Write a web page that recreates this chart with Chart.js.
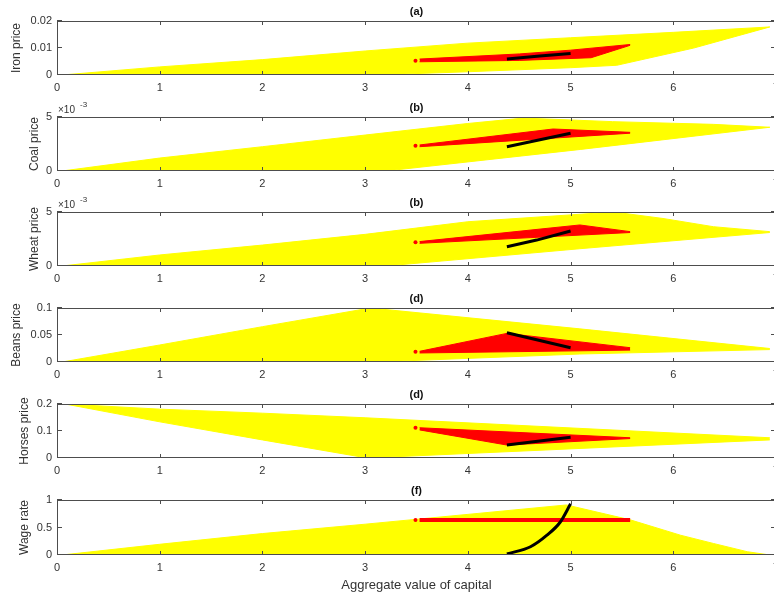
<!DOCTYPE html>
<html>
<head>
<meta charset="utf-8">
<script src="https://cdn.jsdelivr.net/npm/chart.js@4"></script>
<style>
  body { margin: 0; background: #fff; overflow: hidden; }
  #figure { position: relative; width: 774px; height: 599px; overflow: hidden; }
  #figure canvas { position: absolute; left: 0; }
</style>
</head>
<body>
<div id="figure"></div>
<script>
// shared x axis
const capitalTicks = [0, 1, 2, 3, 4, 5, 6, 7];
const xLabel = 'Aggregate value of capital';

// (a) iron
const ironYellowTop = [[0.05, 0], [1, 0.0030], [2, 0.0057], [3, 0.0089], [4, 0.0118], [5, 0.0138], [6, 0.0158], [6.94, 0.0178]];
const ironYellowBottom = [[0.05, 0], [3.1, 0], [4, 0.0012], [5, 0.0027], [5.45, 0.0036], [6.2, 0.0100], [6.94, 0.0178]];
const ironRedTop = [[3.53, 0.0059], [4.5, 0.0078], [5, 0.0092], [5.58, 0.0113]];
const ironRedBottom = [[3.53, 0.0049], [4.5, 0.0054], [5.2, 0.0064], [5.58, 0.0110]];
const ironDot = [[3.49, 0.0053]];
const ironPath = [[4.38, 0.0059], [4.7, 0.0070], [5.0, 0.0080]];

// (b) coal
const coalYellowTop = [[0.05, 0], [1, 0.0012], [2, 0.00225], [3, 0.00333], [4, 0.0044], [4.54, 0.0049], [5.41, 0.00457], [6.39, 0.00432], [6.94, 0.00405]];
const coalYellowBottom = [[0.05, 0], [3.2, 0], [5.1, 0.0020], [6.94, 0.00405]];
const coalRedTop = [[3.53, 0.00241], [4.83, 0.00389], [5.58, 0.00358]];
const coalRedBottom = [[3.53, 0.00225], [5.58, 0.0035]];
const coalDot = [[3.49, 0.00234]];
const coalPath = [[4.38, 0.00225], [5.0, 0.00349]];

// (b) wheat
const wheatYellowTop = [[0.05, 0], [1, 0.00102], [2, 0.00194], [3, 0.00293], [4, 0.0041], [5.42, 0.0050], [5.9, 0.0044], [6.39, 0.00364], [6.94, 0.00318]];
const wheatYellowBottom = [[0.05, 0], [3.2, 0], [5.09, 0.0016], [6.94, 0.0031]];
const wheatRedTop = [[3.53, 0.00226], [5.09, 0.0038], [5.58, 0.00318]];
const wheatRedBottom = [[3.53, 0.0021], [5.58, 0.0031]];
const wheatDot = [[3.49, 0.0022]];
const wheatPath = [[4.38, 0.00179], [4.67, 0.0024], [5.0, 0.00324]];

// (d) beans
const beansYellowTop = [[0.05, 0], [1, 0.0315], [2, 0.0654], [3.05, 0.1], [5.09, 0.0614], [6.94, 0.025]];
const beansYellowBottom = [[0.05, 0], [3.1, 0], [5.09, 0.0148], [6.94, 0.023]];
const beansRedTop = [[3.53, 0.0198], [4.38, 0.053], [5.58, 0.0265]];
const beansRedBottom = [[3.53, 0.0167], [5.58, 0.022]];
const beansDot = [[3.49, 0.019]];
const beansPath = [[4.38, 0.0543], [5.0, 0.0265]];

// (d) horses
const horsesYellowTop = [[0.08, 0.2], [1, 0.181], [2, 0.166], [3, 0.149], [6.94, 0.075]];
const horsesYellowBottom = [[0.08, 0.2], [1, 0.134], [2, 0.067], [3.02, 0], [6.94, 0.067]];
const horsesRedTop = [[3.53, 0.112], [5.58, 0.075]];
const horsesRedBottom = [[3.53, 0.104], [4.38, 0.048], [5.58, 0.072]];
const horsesDot = [[3.49, 0.112]];
const horsesPath = [[4.38, 0.048], [5.0, 0.0767]];

// (f) wage
const wageYellowTop = [[0.05, 0], [1, 0.195], [2, 0.39], [3, 0.56], [4.12, 0.76], [4.96, 0.91], [5.58, 0.64], [6.07, 0.36], [6.39, 0.21], [6.72, 0.06], [6.94, 0]];
const wageYellowBottom = [[0.05, 0], [6.94, 0]];
const wageRedLine = [[3.53, 0.636], [5.58, 0.636]];
const wageDot = [[3.49, 0.636]];
const wagePath = [[4.38, 0.02], [4.61, 0.15], [4.77, 0.36], [4.9, 0.6], [5.0, 0.93]];

const panels = [
  { title: '(a)', label: 'Iron price', labelX: 17, top: 21, yMax: 0.02, yTicks: [0, 0.01, 0.02], tickText: ['0', '0.01', '0.02'],
    yTop: ironYellowTop, yBot: ironYellowBottom, rTop: ironRedTop, rBot: ironRedBottom, dot: ironDot, path: ironPath },
  { title: '(b)', label: 'Coal price', labelX: 35, top: 117, yMax: 0.005, yTicks: [0, 0.005], tickText: ['0', '5'], exponent: true,
    yTop: coalYellowTop, yBot: coalYellowBottom, rTop: coalRedTop, rBot: coalRedBottom, dot: coalDot, path: coalPath },
  { title: '(b)', label: 'Wheat price', labelX: 35, top: 212, yMax: 0.005, yTicks: [0, 0.005], tickText: ['0', '5'], exponent: true,
    yTop: wheatYellowTop, yBot: wheatYellowBottom, rTop: wheatRedTop, rBot: wheatRedBottom, dot: wheatDot, path: wheatPath },
  { title: '(d)', label: 'Beans price', labelX: 17, top: 308, yMax: 0.1, yTicks: [0, 0.05, 0.1], tickText: ['0', '0.05', '0.1'],
    yTop: beansYellowTop, yBot: beansYellowBottom, rTop: beansRedTop, rBot: beansRedBottom, dot: beansDot, path: beansPath },
  { title: '(d)', label: 'Horses price', labelX: 25, top: 404, yMax: 0.2, yTicks: [0, 0.1, 0.2], tickText: ['0', '0.1', '0.2'],
    yTop: horsesYellowTop, yBot: horsesYellowBottom, rTop: horsesRedTop, rBot: horsesRedBottom, dot: horsesDot, path: horsesPath },
  { title: '(f)', label: 'Wage rate', labelX: 25, top: 500, yMax: 1, yTicks: [0, 0.5, 1], tickText: ['0', '0.5', '1'], last: true,
    yTop: wageYellowTop, yBot: wageYellowBottom, rLine: wageRedLine, dot: wageDot, path: wagePath, smooth: true }
];

const FONT = '"Liberation Sans", Arial, sans-serif';
const INK = '#333';
const PAD_TOP = 20;

const toPts = pairs => pairs.map(([x, y]) => ({ x, y }));

// matlab-ish box, inward ticks and all the texts
const decor = {
  id: 'decor',
  afterDraw(chart, args, o) {
    const { ctx, chartArea: a } = chart;
    const xs = chart.scales.x, ys = chart.scales.y;
    ctx.save();
    ctx.strokeStyle = '#4d4d4d';
    ctx.lineWidth = 1;
    ctx.strokeRect(a.left + 0.5, a.top + 0.5, a.right - a.left - 1, a.bottom - a.top - 1);
    ctx.beginPath();
    xs.ticks.forEach(t => {
      const px = Math.round(xs.getPixelForValue(t.value)) + 0.5;
      ctx.moveTo(px, a.top); ctx.lineTo(px, a.top + 4);
      ctx.moveTo(px, a.bottom); ctx.lineTo(px, a.bottom - 4);
    });
    ys.ticks.forEach(t => {
      const py = Math.round(ys.getPixelForValue(t.value)) - 0.5;
      ctx.moveTo(a.left, py); ctx.lineTo(a.left + 5, py);
      ctx.moveTo(a.right, py); ctx.lineTo(a.right - 5, py);
    });
    ctx.stroke();

    ctx.fillStyle = '#111';
    ctx.textAlign = 'center';
    ctx.textBaseline = 'alphabetic';
    ctx.font = 'bold 11px ' + FONT;
    ctx.fillText(o.title, (a.left + a.right) / 2, a.top - 6);

    ctx.fillStyle = INK;
    ctx.font = '12px ' + FONT;
    ctx.save();
    ctx.translate(o.labelX, (a.top + a.bottom) / 2);
    ctx.rotate(-Math.PI / 2);
    ctx.textBaseline = 'middle';
    ctx.fillText(o.label, 0, 0);
    ctx.restore();

    if (o.exponent) {
      ctx.textAlign = 'left';
      ctx.font = '10px ' + FONT;
      ctx.fillText('\u00d710', 58, a.top - 4);
      ctx.font = '8px ' + FONT;
      ctx.fillText('-3', 80, a.top - 10);
    }
    if (o.last) {
      ctx.textAlign = 'center';
      ctx.font = '13px ' + FONT;
      ctx.fillText(xLabel, (a.left + a.right) / 2, a.bottom + 34);
    }
    ctx.restore();
  }
};

const figure = document.getElementById('figure');

panels.forEach(p => {
  const plotH = p.last ? 55 : 54;
  const height = p.last ? 599 - (p.top - PAD_TOP) : PAD_TOP + plotH + 22;
  const canvas = document.createElement('canvas');
  canvas.width = 790;
  canvas.height = height;
  canvas.style.top = (p.top - PAD_TOP) + 'px';
  figure.appendChild(canvas);

  const line = (data, color, width, extra) => Object.assign({
    data: toPts(data), showLine: true, borderColor: color, borderWidth: width,
    pointRadius: 0, fill: false, tension: 0
  }, extra);

  // first dataset is drawn on top
  const datasets = [
    line(p.path, '#000', 3, p.smooth ? { cubicInterpolationMode: 'monotone' } : {}),
    { data: toPts(p.dot), showLine: false, pointRadius: 2, pointBackgroundColor: '#f00', pointBorderWidth: 0 }
  ];
  if (p.rLine) {
    datasets.push(line(p.rLine, '#f00', 4));
  } else {
    datasets.push(line(p.rTop, '#f00', 1, { backgroundColor: '#f00', fill: '+1' }));
    datasets.push(line(p.rBot, '#f00', 1));
  }
  datasets.push(line(p.yTop, '#ff0', 1, { backgroundColor: '#ff0', fill: '+1' }));
  datasets.push(line(p.yBot, '#ff0', 1));

  new Chart(canvas.getContext('2d'), {
    type: 'scatter',
    data: { datasets },
    options: {
      responsive: false,
      animation: false,
      events: [],
      layout: { padding: { top: PAD_TOP, left: 0, right: 14, bottom: 0 } },
      plugins: {
        legend: { display: false },
        tooltip: { enabled: false },
        decor: { title: p.title, label: p.label, labelX: p.labelX, exponent: p.exponent, last: p.last }
      },
      scales: {
        x: {
          type: 'linear', min: 0, max: 7,
          grid: { display: false, drawTicks: false }, border: { display: false },
          afterBuildTicks: s => { s.ticks = capitalTicks.map(v => ({ value: v })); },
          afterFit: s => { s.height = height - PAD_TOP - plotH; },
          ticks: { color: INK, font: { family: FONT, size: 11 }, padding: 6, maxRotation: 0, callback: v => String(v) }
        },
        y: {
          type: 'linear', min: 0, max: p.yMax,
          grid: { display: false, drawTicks: false }, border: { display: false },
          afterBuildTicks: s => { s.ticks = p.yTicks.map(v => ({ value: v })); },
          afterFit: s => { s.width = 57; },
          ticks: { color: INK, font: { family: FONT, size: 11 }, padding: 5,
                   callback: (v, i) => p.tickText[i] }
        }
      }
    },
    plugins: [decor]
  });
});
</script>
</body>
</html>
